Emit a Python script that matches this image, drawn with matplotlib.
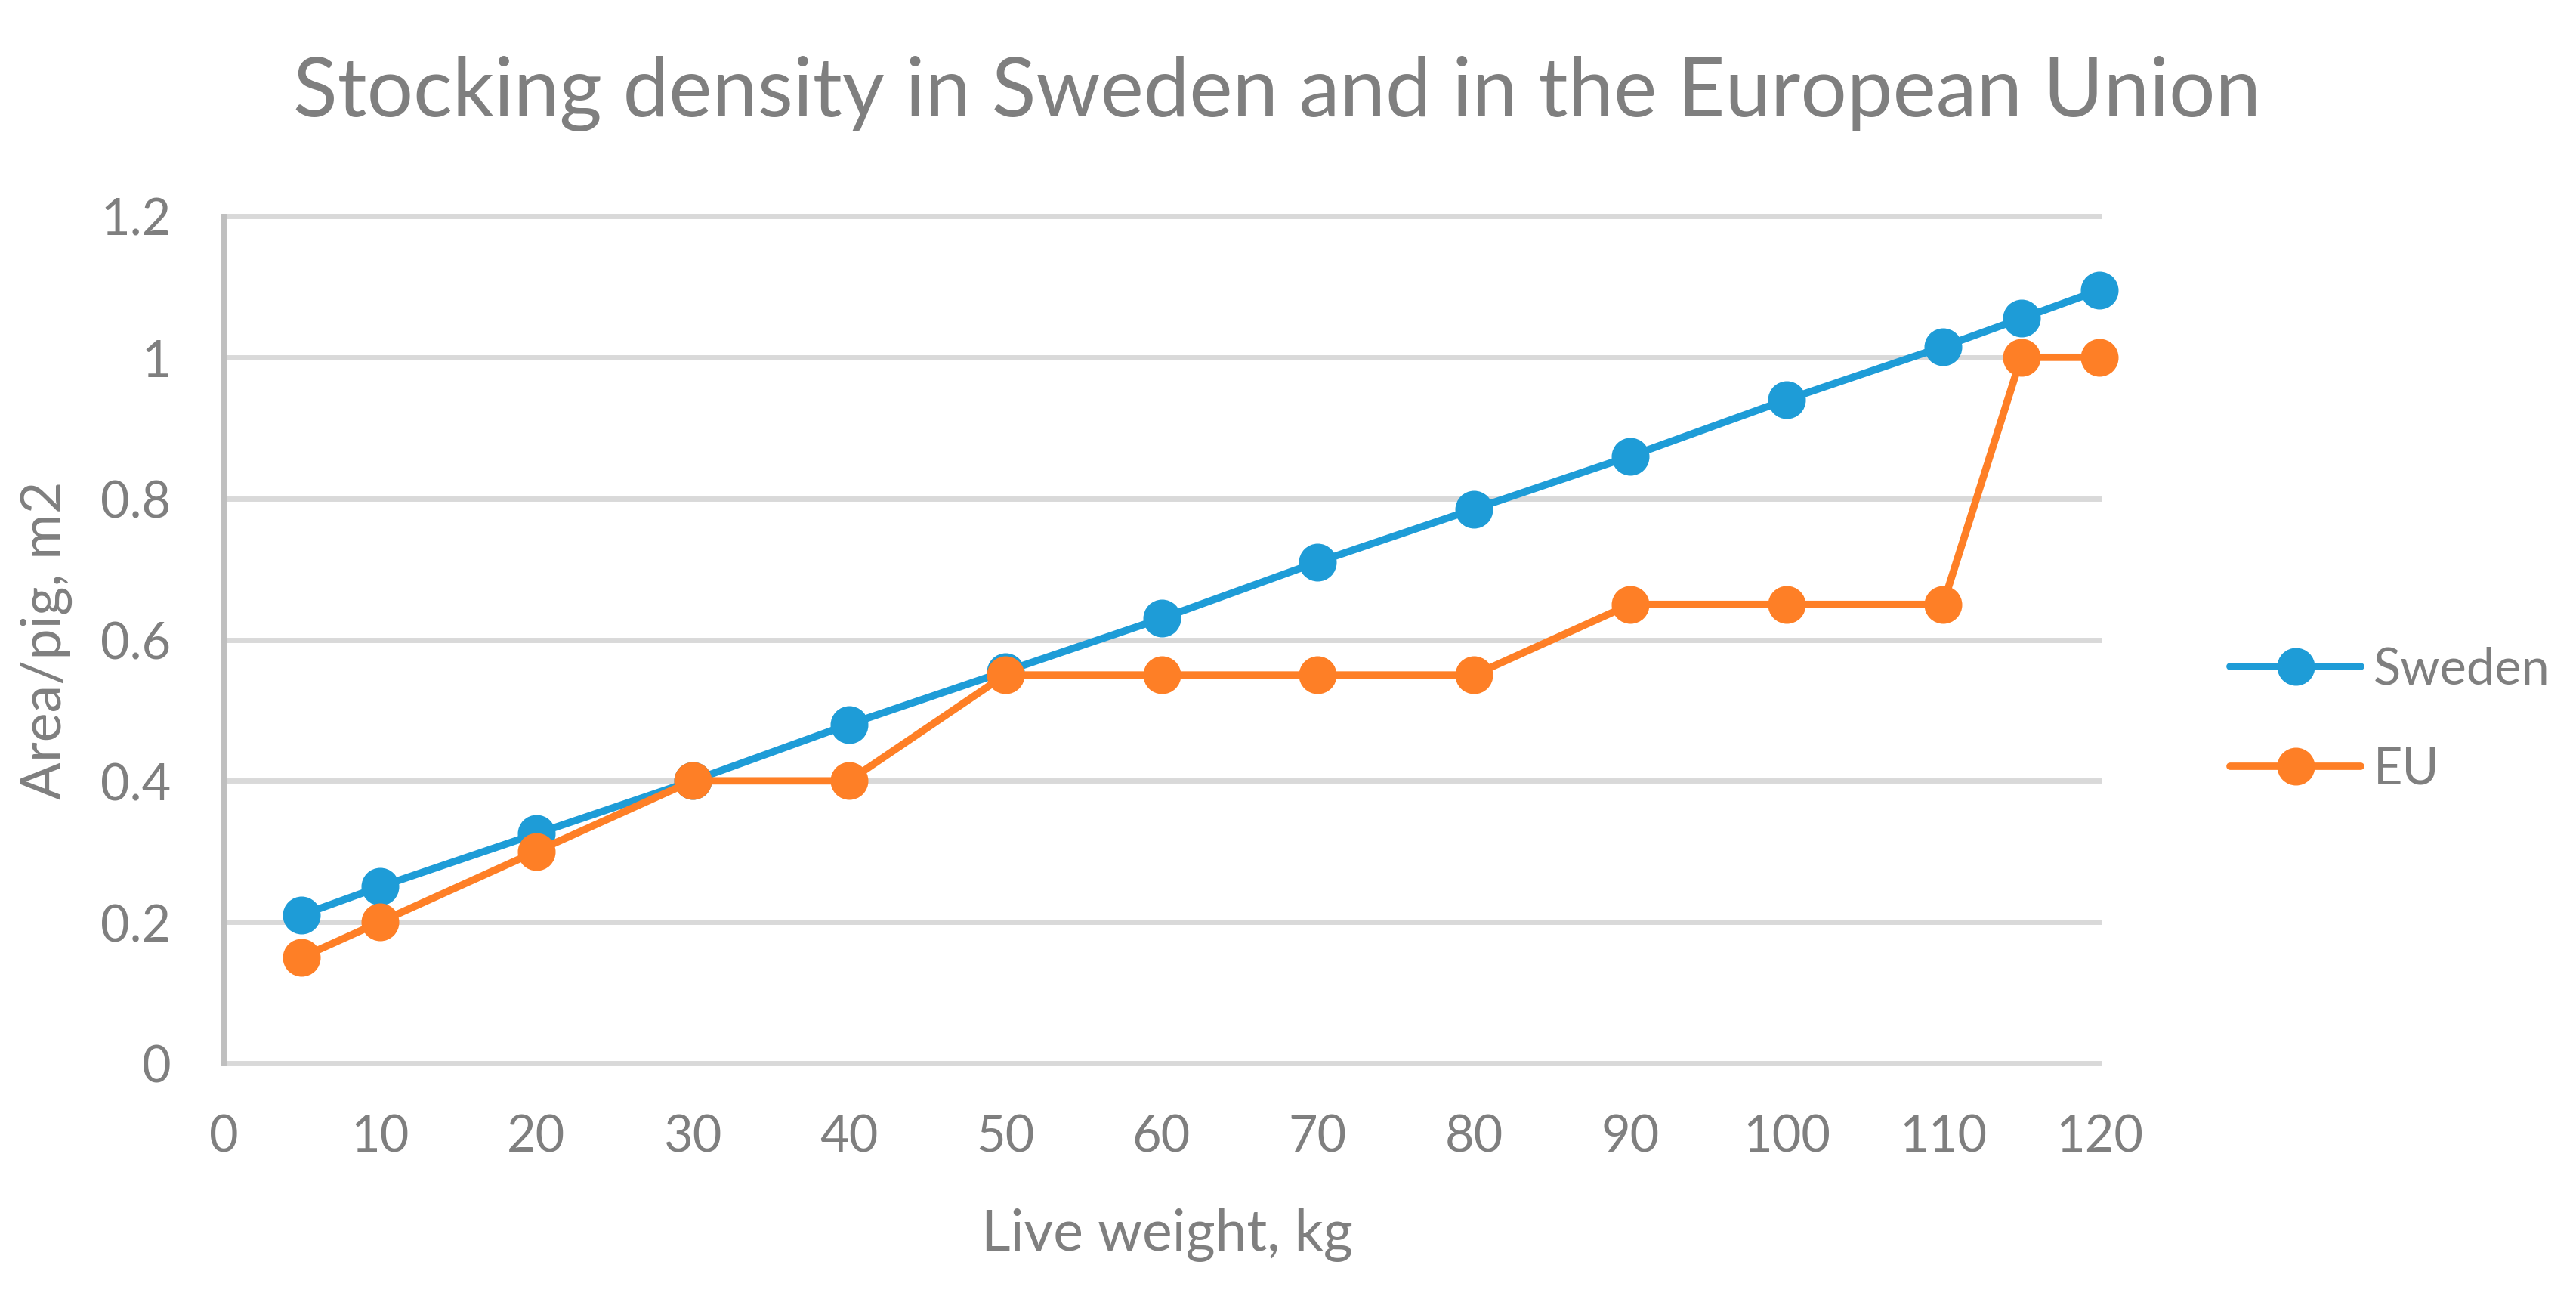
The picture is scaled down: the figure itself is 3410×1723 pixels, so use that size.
import matplotlib
matplotlib.use("Agg")
import matplotlib.pyplot as plt

# values
weights = [5, 10, 20, 30, 40, 50, 60, 70, 80, 90, 100, 110, 115, 120]
sweden = [0.21, 0.25, 0.325, 0.40, 0.48, 0.555, 0.63, 0.71, 0.785, 0.86, 0.94, 1.015, 1.055, 1.095]
eu = [0.15, 0.20, 0.30, 0.40, 0.40, 0.55, 0.55, 0.55, 0.55, 0.65, 0.65, 0.65, 1.0, 1.0]
series_names = ["Sweden", "EU"]
x_ticks = list(range(0, 121, 10))
y_ticks = [0, 0.2, 0.4, 0.6, 0.8, 1, 1.2]
y_tick_labels = ["0", "0.2", "0.4", "0.6", "0.8", "1", "1.2"]

BLUE = "#1E9CD7"
ORANGE = "#FE7F26"
TEXT = "#7F7F7F"
GRID = "#D9D9D9"
AXIS = "#BFBFBF"

plt.rcParams["font.family"] = ["Lato", "DejaVu Sans"]

W, H = 3410, 1724
fig = plt.figure(figsize=(W / 100, H / 100), dpi=100)
ax = fig.add_axes([296 / W, 1 - 1408 / H, (2779 - 296) / W, (1408 - 287) / H])

for vals, name, col in [(sweden, series_names[0], BLUE), (eu, series_names[1], ORANGE)]:
    ax.plot(weights, vals, color=col, lw=7, marker="o", ms=35, label=name,
            solid_capstyle="round", clip_on=False, zorder=3)

ax.set_xlim(0, 120)
ax.set_ylim(0, 1.2)
ax.set_xticks(x_ticks)
ax.set_yticks(y_ticks)
ax.set_yticklabels(y_tick_labels)
ax.tick_params(length=0, labelsize=48, colors=TEXT)
ax.tick_params(axis="y", pad=50)
ax.tick_params(axis="x", pad=48)

ax.grid(axis="y", color=GRID, lw=5)
for gl in ax.get_ygridlines():
    gl.set_clip_on(False)
ax.set_axisbelow(True)
for s in ["top", "right", "bottom"]:
    ax.spines[s].set_visible(False)
ax.spines["left"].set_color(AXIS)
ax.spines["left"].set_linewidth(5)
ax.spines["left"].set_zorder(2.5)

fig.text(1690 / W, 1 - 124 / H, "Stocking density in Sweden and in the European Union",
         ha="center", va="center", fontsize=78, color=TEXT)
fig.text(1545 / W, 1 - 1635 / H, "Live weight, kg", ha="center", va="center",
         fontsize=54, color=TEXT)
fig.text(61 / W, 1 - 847 / H, "Area/pig, m2", ha="center", va="center",
         fontsize=53, color=TEXT, rotation=90)

leg = ax.legend(loc="center left", bbox_to_anchor=(2952 / W, 1 - 953 / H),
                bbox_transform=fig.transFigure, frameon=False, fontsize=48,
                handlelength=2.6, handletextpad=0.25, labelspacing=1.05,
                borderpad=0, borderaxespad=0)
for t in leg.get_texts():
    t.set_color(TEXT)

fig.savefig("out.png", dpi=100, facecolor="white")
